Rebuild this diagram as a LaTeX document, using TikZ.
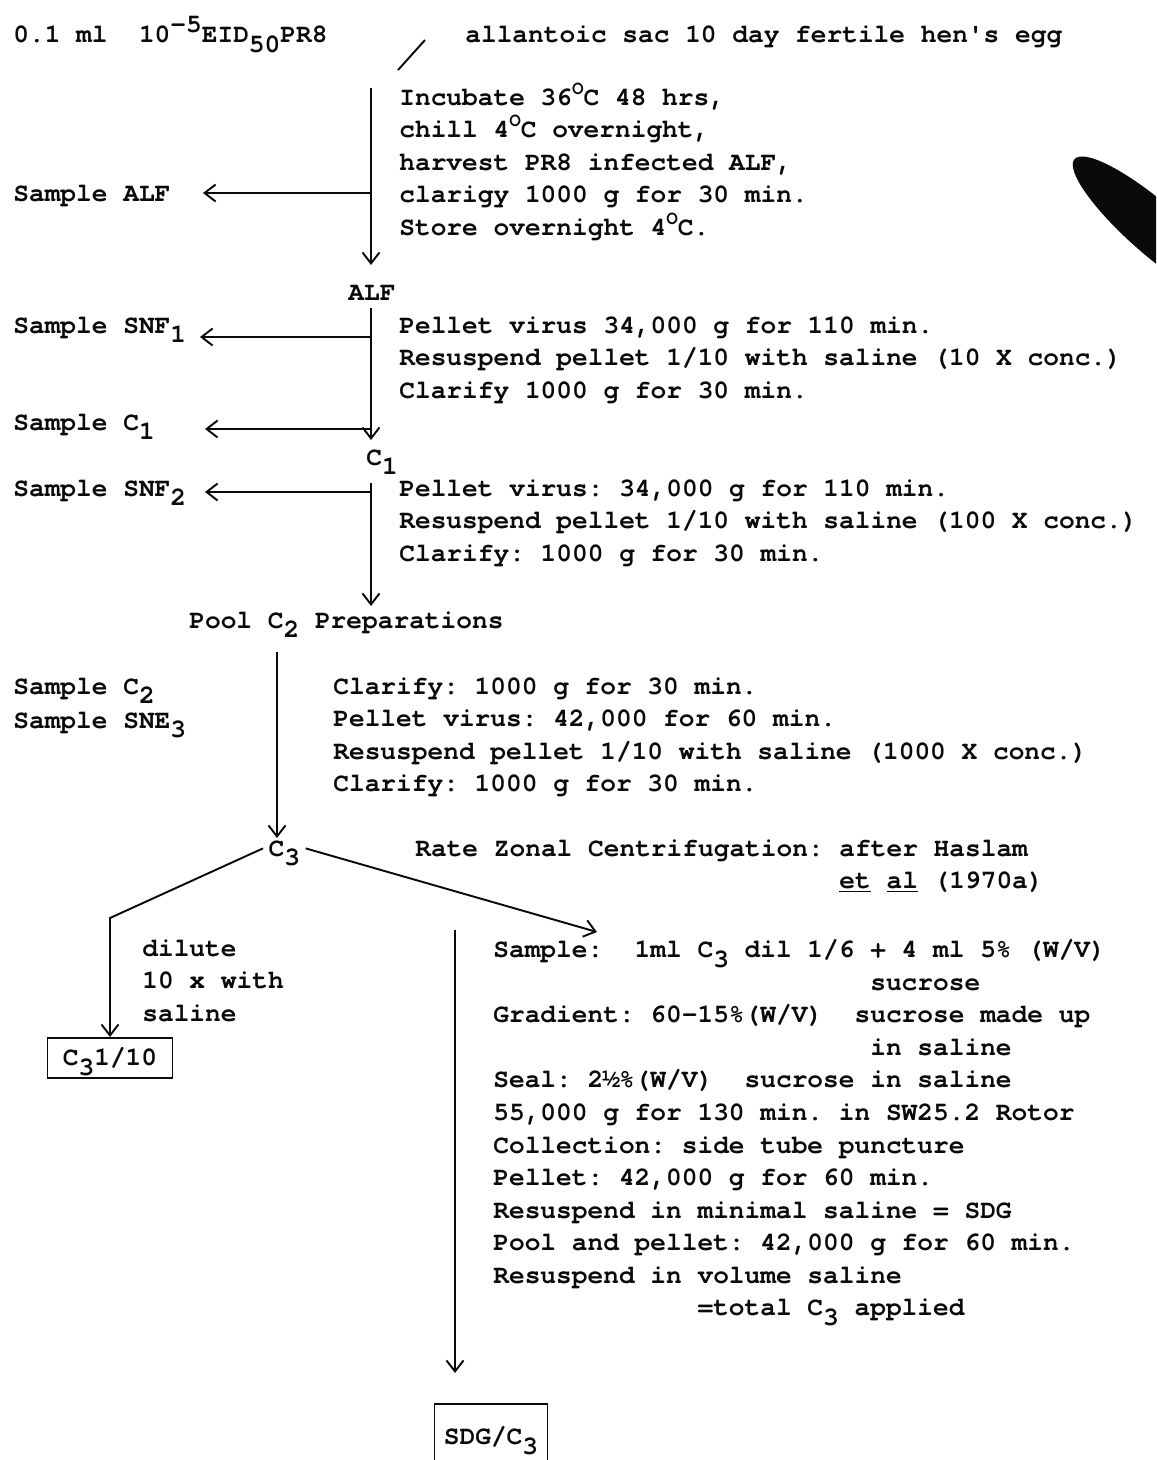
\documentclass[tikz,border=0pt]{standalone}
\usepackage{fontspec}
\setmainfont{TeX Gyre Cursor}
\usetikzlibrary{arrows.meta}
\definecolor{ink}{HTML}{0A0A0A}
% typewriter half-line shifts
\newcommand{\hup}[1]{\smash{\raisebox{0.42em}{#1}}}
\newcommand{\hdn}[1]{\smash{\raisebox{-0.38em}{#1}}}
\newcommand{\dgr}{\hup{\fontsize{11}{11}\selectfont O}}
\newcommand{\tabto}[1]{\hspace*{\dimexpr0.6em*#1\relax}}
\frenchspacing

\begin{document}
\begin{tikzpicture}[
  x=0.02cm,y=-0.02cm,
  font=\fontsize{14.9}{18.54}\selectfont\bfseries,
  lbl/.style={anchor=base west,inner sep=0pt,text=ink},
  blk/.style={anchor=north west,inner sep=0pt,align=left,text=ink},
  res/.style={draw=ink,line width=1.1pt,inner sep=0pt,text=ink},
  ln/.style={line width=1.1pt,draw=ink},
  arr/.style={-{Straight Barb[length=2.2mm,width=3.4mm]},line width=1.1pt,draw=ink}
]
\clip (0,0) rectangle (1156,1460);

% Inoculation
\node[lbl] (inoc) at (13,43) {0.1 ml\ \ 10\hup{-5}EID\hdn{50}PR8};
\node[lbl] (egg) at (465,43) {allantoic sac 10 day fertile hen\textquotesingle s egg};
\coordinate (sl1) at (398,70);
\coordinate (sl2) at (425,40);
\draw[ln] (sl1) -- (sl2);

% Harvest
\node[blk] (incub) at (399,88) {Incubate 36\dgr C 48 hrs,\\chill 4\dgr C overnight,\\harvest PR8 infected ALF,\\clarigy 1000 g for 30 min.\\Store overnight 4\dgr C.};
\node[lbl] (salf) at (13,201) {Sample ALF};
\node[anchor=base,inner sep=0pt,text=ink] (alf) at (372,300) {ALF};
\coordinate (v0) at (371,88);
\coordinate (v0e) at (371,265);
\coordinate (h1) at (371,193);
\coordinate (h1e) at (203,193);
\draw[arr] (v0) -- (v0e);
\draw[arr] (h1) -- (h1e);

% First concentration
\node[blk] (pel1) at (399,316) {Pellet virus 34,000 g for 110 min.\\Resuspend pellet 1/10 with saline (10 X conc.)\\Clarify 1000 g for 30 min.};
\node[lbl] (ssnf1) at (13,333) {Sample SNF\hdn{1}};
\node[lbl] (sc1) at (13,430) {Sample C\hdn{1}};
\node[lbl] (c1) at (366,465) {C\hdn{1}};
\coordinate (v1) at (371,308);
\coordinate (v1e) at (371,440);
\coordinate (h2) at (371,337);
\coordinate (h2e) at (200,337);
\coordinate (h3) at (371,429);
\coordinate (h3e) at (205,429);
\draw[arr] (v1) -- (v1e);
\draw[arr] (h2) -- (h2e);
\draw[arr] (h3) -- (h3e);

% Second concentration
\node[blk] (pel2) at (399,479) {Pellet virus: 34,000 g for 110 min.\\Resuspend pellet 1/10 with saline (100 X conc.)\\Clarify: 1000 g for 30 min.};
\node[lbl] (ssnf2) at (13,496) {Sample SNF\hdn{2}};
\node[lbl] (pool) at (189,628) {Pool C\hdn{2} Preparations};
\coordinate (v2) at (371,483);
\coordinate (v2e) at (371,606);
\coordinate (h4) at (371,492);
\coordinate (h4e) at (205,492);
\draw[arr] (v2) -- (v2e);
\draw[arr] (h4) -- (h4e);

% Third concentration
\node[lbl] (sc2) at (13,694) {Sample C\hdn{2}};
\node[lbl] (ssne3) at (13,728) {Sample SNE\hdn{3}};
\node[blk] (pel3) at (333,677) {Clarify: 1000 g for 30 min.\\Pellet virus: 42,000 for 60 min.\\Resuspend pellet 1/10 with saline (1000 X conc.)\\Clarify: 1000 g for 30 min.};
\coordinate (v3) at (277,652);
\coordinate (v3e) at (277,838);
\draw[arr] (v3) -- (v3e);

% C3 and its two branches
\node[lbl,inner sep=3pt] (c3) at (263,856) {C\hdn{3}};
\node[blk] (rate) at (415,839) {Rate Zonal Centrifugation: after Haslam\\\tabto{27}\underline{et} \underline{al} (1970a)};
\node[blk] (dil) at (142,939) {dilute\\10 x with\\saline};
\node[res,minimum width=2.5cm,minimum height=0.8cm] (c3dil) at (110,1058) {C\hdn{3}1/10};
\coordinate (k1) at (110,918);
\draw[arr] (c3.west) -- (k1) -- (c3dil.north);

\node[blk] (zonal) at (493,939) {Sample:\ \ 1ml C\hdn{3} dil 1/6 + 4 ml 5\% (W/V)\\\tabto{24}sucrose\\Gradient: 60-15\%(W/V)\ \ sucrose made up\\\tabto{24}in saline\\Seal: 2½\%(W/V)\ \ sucrose in saline\\55,000 g for 130 min. in SW25.2 Rotor\\Collection: side tube puncture\\Pellet: 42,000 g for 60 min.\\Resuspend in minimal saline = SDG\\Pool and pellet: 42,000 g for 60 min.\\Resuspend in volume saline\\\tabto{13}=total C\hdn{3} applied};
\coordinate (k2) at (597,932);
\draw[arr] (c3.east) -- (k2);
\coordinate (v4) at (455,930);
\coordinate (v4e) at (455,1373);
\draw[arr] (v4) -- (v4e);
\node[res,minimum width=2.26cm,minimum height=1.3cm,anchor=north] (sdg) at (491,1403) {SDG/C\hdn{3}};

% blot on the scan
\fill[ink,rotate around={-41:(1156,230)}] (1156,230) ellipse [x radius=108, y radius=26];
\end{tikzpicture}
\end{document}
